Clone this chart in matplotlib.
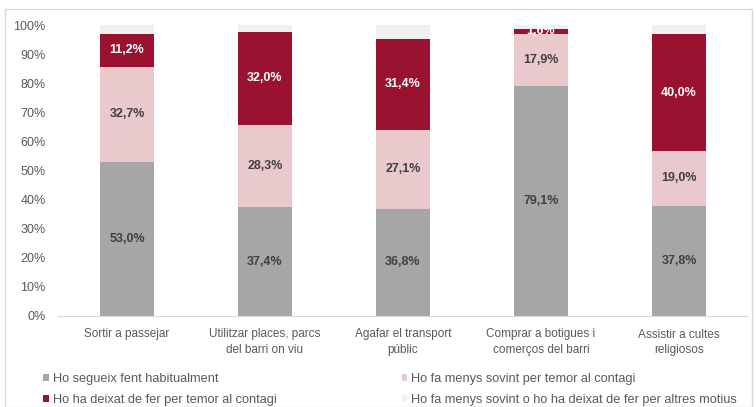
import numpy as np
import matplotlib.pyplot as plt
from matplotlib.patches import Rectangle, Patch

plt.rcParams['font.family'] = ['Liberation Sans', 'DejaVu Sans']

# --- data ---
categories = ["Sortir a passejar", "Utilitzar places, parcs\ndel barri on viu",
              "Agafar el transport\npúblic", "Comprar a botigues i\ncomerços del barri",
              "Assistir a cultes\nreligiosos"]
series_names = ["Ho segueix fent habitualment",
                "Ho fa menys sovint per temor al contagi",
                "Ho ha deixat de fer per temor al contagi",
                "Ho fa menys sovint o ho ha deixat de fer per altres motius"]
habitual = [53.0, 37.4, 36.8, 79.1, 37.8]
menys_temor = [32.7, 28.3, 27.1, 17.9, 19.0]
deixat_temor = [11.2, 32.0, 31.4, 1.6, 40.0]
altres = [3.1, 2.3, 4.7, 1.4, 3.2]

colors = ['#A6A6A6', '#E9C9CB', '#9B1230', '#F0F0F0']
label_colors = ['#404040', '#404040', 'white', None]

fig = plt.figure(figsize=(7.56, 4.07), dpi=100)
ax = fig.add_axes([58/756, 1 - 316/407, 690/756, 291/407])

# light frame round the whole figure
fig.patches.append(Rectangle((5/756, 0), 747/756, 1 - 9/407, transform=fig.transFigure,
                             fill=False, edgecolor='#D9D9D9', lw=1))

x = np.arange(len(categories))
bottom = np.zeros(len(categories))
for vals, col, lc in zip([habitual, menys_temor, deixat_temor, altres], colors, label_colors):
    vals = np.array(vals)
    ax.bar(x, vals, 0.39, bottom=bottom, color=col)
    if lc is not None:
        for xi, b, v in zip(x, bottom, vals):
            ax.text(xi, b + v / 2, f"{v:.1f}%".replace('.', ','), ha='center', va='center',
                    fontsize=9, fontweight='bold', color=lc)
    bottom += vals

ax.set_xlim(-0.5, len(categories) - 0.5)
ax.set_ylim(0, 100)
ax.set_yticks(np.arange(0, 101, 10))
ax.set_yticklabels([f"{t}%" for t in range(0, 101, 10)], fontsize=9)
ax.set_xticks(x)
ax.set_xticklabels(categories, fontsize=8.5, linespacing=1.35)
ax.tick_params(axis='both', length=0, colors='#595959')
ax.tick_params(axis='x', pad=9)
ax.tick_params(axis='y', pad=9)
for s in ['top', 'right', 'left']:
    ax.spines[s].set_visible(False)
ax.spines['bottom'].set_color('#D9D9D9')

handles = [Patch(facecolor=c) for c in colors]
order = [0, 2, 1, 3]
fig.legend([handles[i] for i in order], [series_names[i] for i in order], ncol=2,
           loc='upper left', bbox_to_anchor=(43/756, 1 - 373/407), frameon=False,
           borderpad=0, borderaxespad=0,
           fontsize=9.2, handlelength=0.45, handleheight=0.45, handletextpad=0.3,
           columnspacing=9.8, labelspacing=0.7, labelcolor='#595959')

fig.savefig('out.png', dpi=100)
